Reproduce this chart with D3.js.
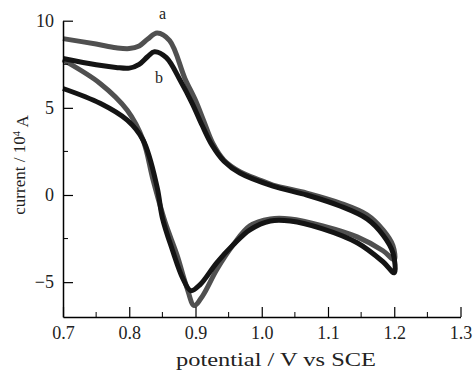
<!DOCTYPE html>
<html>
<head>
<meta charset="utf-8">
<script src="https://cdn.jsdelivr.net/npm/d3@7"></script>
<style>
  body { margin: 0; background: #fff; }
  svg { display: block; }
  .lbl { font-family: "Liberation Serif", "DejaVu Serif", serif; fill: #222; }
</style>
</head>
<body>
<div id="cv"></div>
<script>
// potential (V) and current (10^4 A)
var aFwdV = [0.700, 0.750, 0.780, 0.800, 0.815, 0.828, 0.842, 0.861, 0.884, 0.900, 0.912, 0.926, 0.943, 0.967, 0.997, 1.017, 1.068, 1.118, 1.159, 1.183, 1.198];
var aFwdI = [8.97, 8.66, 8.45, 8.40, 8.55, 8.95, 9.30, 8.86, 6.69, 5.43, 4.29, 2.97, 2.00, 1.34, 0.86, 0.57, 0.11, -0.46, -1.14, -2.00, -2.90];
var aRevV = [1.200, 1.183, 1.144, 1.092, 1.043, 1.013, 0.982, 0.957, 0.932, 0.911, 0.898, 0.887, 0.872, 0.854, 0.836, 0.821, 0.797, 0.756, 0.700];
var aRevI = [-3.71, -3.20, -2.40, -1.77, -1.37, -1.37, -1.77, -2.86, -4.29, -5.77, -6.34, -5.31, -3.43, -1.54, 0.86, 3.14, 4.86, 6.40, 7.75];

var bFwdV = [0.700, 0.750, 0.780, 0.800, 0.815, 0.828, 0.838, 0.856, 0.877, 0.895, 0.910, 0.925, 0.943, 0.967, 1.017, 1.068, 1.118, 1.159, 1.183, 1.198];
var bFwdI = [7.83, 7.47, 7.32, 7.28, 7.50, 7.95, 8.22, 7.88, 6.57, 5.26, 4.00, 2.86, 1.94, 1.26, 0.51, 0.00, -0.63, -1.37, -2.29, -3.31];
var bRevV = [1.200, 1.183, 1.144, 1.092, 1.043, 1.013, 0.982, 0.957, 0.932, 0.907, 0.893, 0.881, 0.865, 0.850, 0.842, 0.821, 0.797, 0.756, 0.700];
var bRevI = [-4.46, -3.83, -2.74, -1.94, -1.49, -1.49, -2.00, -2.86, -3.89, -5.14, -5.49, -4.80, -3.14, -1.31, 0.46, 3.14, 4.29, 5.26, 6.11];

var xTicks = [0.7, 0.8, 0.9, 1.0, 1.1, 1.2, 1.3];
var xMinor = [0.75, 0.85, 0.95, 1.05, 1.15, 1.25];
var yTicks = [-5, 0, 5, 10];
var yMinor = [-2.5, 2.5, 7.5];

var W = 475, H = 371;
var margin = {left: 63, right: 14.5, top: 20.7, bottom: 54};

var x = d3.scaleLinear().domain([0.7, 1.3]).range([margin.left, W - margin.right]);
var y = d3.scaleLinear().domain([-7, 10]).range([H - margin.bottom, margin.top]);

var svg = d3.select('#cv').append('svg')
    .attr('width', W)
    .attr('height', H);

function zip(vs, is) {
  return vs.map(function(v, k) { return [v, is[k]]; });
}

var curves = [
  {name: 'a', pts: zip(aFwdV, aFwdI).concat(zip(aRevV, aRevI)), color: '#505050'},
  {name: 'b', pts: zip(bFwdV, bFwdI).concat(zip(bRevV, bRevI)), color: '#141414'}
];

var line = d3.line()
    .x(function(d) { return x(d[0]); })
    .y(function(d) { return y(d[1]); })
    .curve(d3.curveCatmullRom.alpha(0.5));

svg.selectAll('path.cv')
    .data(curves)
  .enter().append('path')
    .attr('class', 'cv')
    .attr('d', function(d) { return line(d.pts); })
    .attr('fill', 'none')
    .attr('stroke', function(d) { return d.color; })
    .attr('stroke-width', 5)
    .attr('stroke-linejoin', 'round');

// axes: ticks point inward
var xAxis = d3.axisBottom(x).tickValues(xTicks).tickFormat(d3.format('.1f')).tickSize(-10).tickSizeOuter(0);
var yAxis = d3.axisLeft(y).tickValues(yTicks).tickFormat(function(d) { return d < 0 ? '\u2212' + Math.abs(d) : d; }).tickSize(-10).tickSizeOuter(0);

var gx = svg.append('g')
    .attr('transform', 'translate(0,' + y(-7) + ')')
    .call(xAxis);
xMinor.forEach(function(v) {
  gx.append('line')
      .attr('x1', x(v)).attr('x2', x(v))
      .attr('y1', 0).attr('y2', -5)
      .attr('stroke', '#000');
});

var gy = svg.append('g')
    .attr('transform', 'translate(' + x(0.7) + ',0)')
    .call(yAxis);
yMinor.forEach(function(v) {
  gy.append('line')
      .attr('x1', 0).attr('x2', 5)
      .attr('y1', y(v)).attr('y2', y(v))
      .attr('stroke', '#000');
});

[gx, gy].forEach(function(g) {
  g.select('.domain').attr('stroke', '#000').attr('stroke-width', 1.5);
  g.selectAll('.tick line').attr('stroke', '#000').attr('stroke-width', 1.2);
  g.selectAll('.tick text')
      .attr('class', 'lbl')
      .style('font-size', '18px')
      .attr('fill', '#222');
});
gx.selectAll('.tick text').attr('dy', '1.05em');
gy.selectAll('.tick text').attr('x', -9);

// axis titles
svg.append('text')
    .attr('class', 'lbl')
    .attr('x', 276)
    .attr('y', 366)
    .attr('text-anchor', 'middle')
    .attr('textLength', 200)
    .attr('lengthAdjust', 'spacingAndGlyphs')
    .style('font-size', '18px')
    .text('potential / V vs SCE');

var yt = svg.append('text')
    .attr('class', 'lbl')
    .attr('transform', 'translate(25,165) rotate(-90)')
    .attr('text-anchor', 'middle')
    .style('font-size', '17px');
yt.append('tspan').text('current / 10');
yt.append('tspan').attr('dy', '-0.45em').style('font-size', '11px').text('4');
yt.append('tspan').attr('dy', '0.45em').text(' A');

// curve labels
svg.append('text').attr('class', 'lbl').attr('x', 159).attr('y', 19).style('font-size', '16px').text('a');
svg.append('text').attr('class', 'lbl').attr('x', 155).attr('y', 83).style('font-size', '16px').text('b');
</script>
</body>
</html>
